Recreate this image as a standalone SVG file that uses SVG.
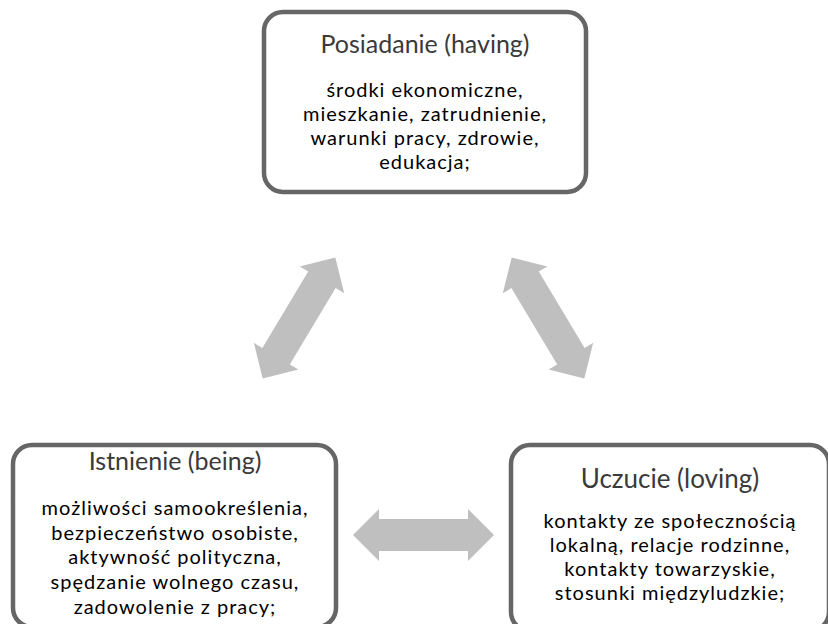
<svg xmlns="http://www.w3.org/2000/svg" width="828" height="624" viewBox="0 0 828 624">
  <defs>
    <style>
      .box { fill: #ffffff; stroke: #666666; stroke-width: 4.5; }
      .title { font-family: Lato, "Open Sans", sans-serif; font-size: 25px; fill: #3a3a3a; text-anchor: middle; }
      .body { font-family: Lato, "Open Sans", sans-serif; font-size: 20px; letter-spacing: 1px; fill: #000000; text-anchor: middle; }
      .arrow { fill: #bfbfbf; }
    </style>
    <path id="dbl" d="M -70.5 0 L -44.5 -26 L -44.5 -16 L 44.5 -16 L 44.5 -26 L 70.5 0 L 44.5 26 L 44.5 16 L -44.5 16 L -44.5 26 Z"/>
  </defs>
  <rect width="828" height="624" fill="#ffffff"/>

  <g id="connectors">
    <use href="#dbl" class="arrow" transform="translate(299,318) rotate(-59)"/>
    <use href="#dbl" class="arrow" transform="translate(548,318) rotate(59)"/>
    <use href="#dbl" class="arrow" transform="translate(423.5,535)"/>
  </g>

  <g id="posiadanie">
    <rect class="box" x="264" y="12" width="322" height="180" rx="19"/>
    <text class="title" x="425" y="53">Posiadanie (having)</text>
    <text class="body" x="425" y="97">środki ekonomiczne,</text>
    <text class="body" x="425" y="121">mieszkanie, zatrudnienie,</text>
    <text class="body" x="425" y="145">warunki pracy, zdrowie,</text>
    <text class="body" x="425" y="169">edukacja;</text>
  </g>

  <g id="istnienie">
    <rect class="box" x="13" y="445" width="323" height="182" rx="19"/>
    <text class="title" x="175" y="470">Istnienie (being)</text>
    <text class="body" x="175" y="515">możliwości samookreślenia,</text>
    <text class="body" x="175" y="540">bezpieczeństwo osobiste,</text>
    <text class="body" x="175" y="564">aktywność polityczna,</text>
    <text class="body" x="175" y="589">spędzanie wolnego czasu,</text>
    <text class="body" x="175" y="614">zadowolenie z pracy;</text>
  </g>

  <g id="uczucie">
    <rect class="box" x="511" y="445" width="318" height="186" rx="19"/>
    <text class="title" x="670" y="488" style="font-size:26px">Uczucie (loving)</text>
    <text class="body" x="670" y="528">kontakty ze społecznością</text>
    <text class="body" x="670" y="552">lokalną, relacje rodzinne,</text>
    <text class="body" x="670" y="576">kontakty towarzyskie,</text>
    <text class="body" x="670" y="600">stosunki międzyludzkie;</text>
  </g>
</svg>
